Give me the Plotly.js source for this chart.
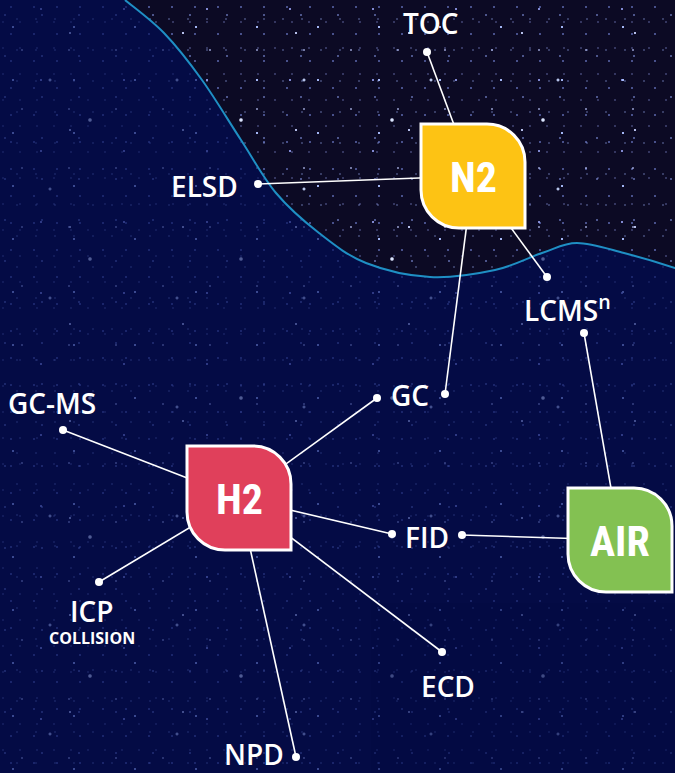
<!DOCTYPE html>
<html>
<head>
<meta charset="utf-8">
<script src="https://cdn.plot.ly/plotly-3.0.1.min.js"></script>
<style>
  html, body { margin: 0; padding: 0; }
  body {
    width: 675px; height: 773px; overflow: hidden;
    background-color: #0c0a24;
    background-image:
      radial-gradient(circle at 13px 27px, rgba(170,190,255,0.95) 0.8px, transparent 1.5px),
      radial-gradient(circle at 41px 9px, rgba(160,170,255,0.8) 0.7px, transparent 1.3px),
      radial-gradient(circle at 22px 50px, rgba(190,200,255,0.7) 0.6px, transparent 1.2px),
      radial-gradient(circle at 70px 33px, rgba(200,210,255,0.9) 0.8px, transparent 1.5px),
      radial-gradient(circle at 5px 15px, rgba(150,170,255,0.6) 0.6px, transparent 1.1px),
      radial-gradient(circle at 90px 120px, rgba(220,230,255,1) 1.2px, transparent 2.3px),
      radial-gradient(circle at 30px 31px, rgba(170,180,255,0.7) 0.6px, transparent 1.2px),
      radial-gradient(circle at 11px 7px, rgba(140,160,255,0.6) 0.6px, transparent 1.1px),
      radial-gradient(circle at 17px 19px, rgba(160,180,255,0.5) 0.5px, transparent 1.0px),
      radial-gradient(circle at 50px 80px, rgba(200,215,255,0.9) 1.0px, transparent 1.9px),
      radial-gradient(circle at 3px 22px, rgba(150,160,240,0.5) 0.5px, transparent 1.0px);
    background-size: 61px 53px, 83px 71px, 47px 59px, 113px 97px, 37px 41px, 151px 139px, 29px 34px, 23px 27px, 19px 31px, 127px 109px, 17px 26px;
  }
  #chart { position: absolute; left: 0; top: 0; width: 675px; height: 773px; }
</style>
</head>
<body>
<div id="chart"></div>
<script>
// ---- data ----
const hubNames  = ['N2', 'H2', 'AIR'];
const hubX      = [473, 239, 620];
const hubY      = [176, 498, 540];

const edgeHub   = ['N2', 'N2', 'N2', 'N2', 'H2', 'H2', 'H2', 'H2', 'H2', 'H2', 'AIR', 'AIR'];
const edgeLeaf  = ['TOC', 'ELSD', 'LCMS', 'GC', 'GC', 'GC-MS', 'ICP', 'FID', 'ECD', 'NPD', 'LCMS', 'FID'];
const edgeDotX  = [427, 258, 547, 445, 377, 63, 99, 392, 442, 296, 584, 462];
const edgeDotY  = [52, 184, 277, 394, 398, 430, 582, 534, 652, 757, 333, 535];

const leafNames  = ['TOC', 'ELSD', 'LCMS<sup>n</sup>', 'GC', 'GC-MS', 'ICP', 'FID', 'ECD', 'NPD'];
const leafLabelX = [431, 204, 567, 410, 52, 92, 427, 448, 254];
const leafLabelY = [23, 186, 308, 395, 403, 611, 537, 686, 754];
const subLabels  = ['COLLISION'];
const subLabelX  = [92];
const subLabelY  = [638];

// ---- styles ----
const hubColors = {N2: '#fdc314', H2: '#e0405b', AIR: '#83c152'};
const W = 675, H = 773;
const boxHalf = 52, boxR = 38;
const labelFont = {family: '"Open Sans", Lato, sans-serif', size: 28, color: '#ffffff', weight: 600};
const hubFont = {family: '"Roboto Condensed", "Liberation Sans Narrow", "DejaVu Sans Condensed", Roboto, sans-serif', size: 42, color: '#ffffff', weight: 700};

// background wave (decoration)
const wave = [[125,0],[164,33],[202,80],[241,140],[276,193],[319,233],[366,263],[430,277],[495,270],[542,253],[577,243],[624,253],[675,268],[700,278]];
function smoothPath(pts) {
  let d = 'M' + pts[0][0] + ',' + pts[0][1];
  for (let i = 0; i < pts.length - 1; i++) {
    const p0 = pts[Math.max(0, i - 1)], p1 = pts[i], p2 = pts[i + 1], p3 = pts[Math.min(pts.length - 1, i + 2)];
    const c1 = [p1[0] + (p2[0] - p0[0]) / 6, p1[1] + (p2[1] - p0[1]) / 6];
    const c2 = [p2[0] - (p3[0] - p1[0]) / 6, p2[1] - (p3[1] - p1[1]) / 6];
    d += ' C' + c1[0].toFixed(1) + ',' + c1[1].toFixed(1) + ' ' + c2[0].toFixed(1) + ',' + c2[1].toFixed(1) + ' ' + p2[0] + ',' + p2[1];
  }
  return d;
}
const wavePath = smoothPath(wave);

function boxPath(cx, cy) {
  const w = boxHalf, h = boxHalf, r = boxR, k = 0.5523 * r;
  return 'M' + (cx - w) + ',' + (cy - h) +
    ' L' + (cx + w - r) + ',' + (cy - h) +
    ' C' + (cx + w - r + k) + ',' + (cy - h) + ' ' + (cx + w) + ',' + (cy - h + r - k) + ' ' + (cx + w) + ',' + (cy - h + r) +
    ' L' + (cx + w) + ',' + (cy + h) +
    ' L' + (cx - w + r) + ',' + (cy + h) +
    ' C' + (cx - w + r - k) + ',' + (cy + h) + ' ' + (cx - w) + ',' + (cy + h - r + k) + ' ' + (cx - w) + ',' + (cy + h - r) +
    ' Z';
}

// ---- traces ----
const lx = [], ly = [];
edgeHub.forEach((h, i) => {
  const j = hubNames.indexOf(h);
  lx.push(hubX[j], edgeDotX[i], null);
  ly.push(hubY[j], edgeDotY[i], null);
});
const traces = [
  {type: 'scatter', mode: 'lines', x: lx, y: ly, line: {color: '#ffffff', width: 1.6}, hoverinfo: 'skip', showlegend: false},
  {type: 'scatter', mode: 'markers', x: edgeDotX, y: edgeDotY, text: edgeLeaf, marker: {color: '#ffffff', size: 8}, hoverinfo: 'text', showlegend: false}
];

// ---- shapes ----
const shapes = [
  {type: 'path', layer: 'below', path: wavePath + ' L700,773 L0,773 L0,0 Z', fillcolor: 'rgba(0,12,88,0.64)', line: {width: 0}},
  {type: 'rect', layer: 'below', xref: 'paper', yref: 'paper', x0: 0.55, x1: 1, y0: 0, y1: 0.22, fillcolor: 'rgba(0,0,20,0.2)', line: {width: 0}},
  {type: 'path', layer: 'below', path: wavePath, line: {color: '#1f8fc4', width: 2}}
];
hubNames.forEach((h, j) => {
  shapes.push({type: 'path', layer: 'above', path: boxPath(hubX[j], hubY[j]), fillcolor: hubColors[h], line: {color: '#ffffff', width: 3}});
});

// ---- annotations ----
const annotations = [];
hubNames.forEach((h, j) => annotations.push({x: hubX[j], y: hubY[j] + 1, text: h, showarrow: false, xanchor: 'center', yanchor: 'middle', font: hubFont}));
leafNames.forEach((t, i) => annotations.push({x: leafLabelX[i], y: leafLabelY[i], text: t, showarrow: false, xanchor: 'center', yanchor: 'middle', font: labelFont}));
subLabels.forEach((t, i) => annotations.push({x: subLabelX[i], y: subLabelY[i], text: t, showarrow: false, xanchor: 'center', yanchor: 'middle', font: Object.assign({}, labelFont, {size: 16, weight: 700})}));

const layout = {
  width: W, height: H,
  margin: {l: 0, r: 0, t: 0, b: 0, pad: 0},
  paper_bgcolor: 'rgba(0,0,0,0)', plot_bgcolor: 'rgba(0,0,0,0)',
  xaxis: {range: [0, W], visible: false, fixedrange: true},
  yaxis: {range: [H, 0], visible: false, fixedrange: true},
  shapes: shapes, annotations: annotations, showlegend: false
};
Plotly.newPlot('chart', traces, layout, {displayModeBar: false, staticPlot: true});
</script>
</body>
</html>
